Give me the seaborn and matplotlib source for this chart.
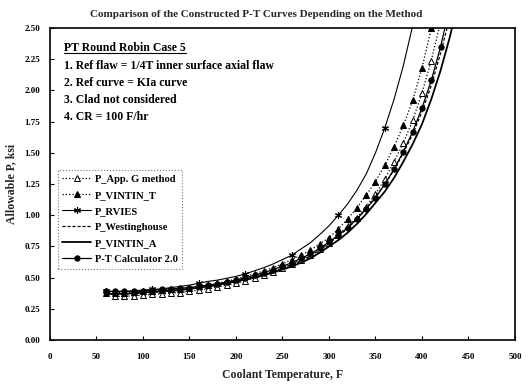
import matplotlib
matplotlib.use("Agg")
import matplotlib.pyplot as plt
from matplotlib.lines import Line2D
import seaborn as sns

# ---------------- data ----------------
temp = [60, 70, 80, 90, 100, 110, 120, 130, 140, 150, 160, 170, 180, 190, 200,
        210, 220, 230, 240, 250, 260, 270, 280, 290, 300, 310, 320, 330, 340,
        350, 360, 370, 380, 390, 400, 410, 420, 430, 440]

# App. G starts at 70 F
p_appg = [0.35, 0.35, 0.355, 0.36, 0.365, 0.37, 0.375, 0.38, 0.39, 0.40, 0.41,
          0.425, 0.44, 0.455, 0.475, 0.495, 0.52, 0.545, 0.575, 0.61, 0.645,
          0.685, 0.73, 0.78, 0.84, 0.91, 0.98, 1.07, 1.17, 1.29, 1.43, 1.58,
          1.76, 1.98, 2.24, 2.55]
p_vintin_t = [0.38, 0.38, 0.38, 0.385, 0.39, 0.395, 0.40, 0.405, 0.41, 0.42,
              0.43, 0.44, 0.455, 0.47, 0.49, 0.51, 0.53, 0.555, 0.58, 0.61,
              0.645, 0.68, 0.72, 0.77, 0.82, 0.89, 0.97, 1.06, 1.16, 1.27,
              1.40, 1.55, 1.72, 1.92, 2.18, 2.50, 2.85]
p_rvies = [0.39, 0.39, 0.39, 0.395, 0.40, 0.405, 0.41, 0.42, 0.43, 0.44,
           0.455, 0.47, 0.48, 0.495, 0.51, 0.53, 0.555, 0.58, 0.61, 0.645,
           0.68, 0.73, 0.78, 0.845, 0.915, 1.00, 1.09, 1.20, 1.33, 1.50,
           1.70, 1.93, 2.20, 2.52]
p_westinghouse = [0.37, 0.37, 0.37, 0.375, 0.38, 0.385, 0.39, 0.395, 0.40,
                  0.41, 0.42, 0.43, 0.445, 0.46, 0.475, 0.49, 0.51, 0.53,
                  0.55, 0.575, 0.605, 0.635, 0.675, 0.72, 0.775, 0.83, 0.895,
                  0.97, 1.055, 1.15, 1.245, 1.365, 1.50, 1.65, 1.83, 2.04,
                  2.30, 2.59]
p_vintin_a = [0.37, 0.37, 0.37, 0.375, 0.38, 0.385, 0.39, 0.395, 0.40, 0.41,
              0.42, 0.43, 0.44, 0.455, 0.47, 0.485, 0.50, 0.52, 0.54, 0.565,
              0.59, 0.62, 0.655, 0.70, 0.75, 0.80, 0.86, 0.93, 1.01, 1.10,
              1.19, 1.30, 1.43, 1.57, 1.73, 1.93, 2.16, 2.43, 2.75]
p_ptcalc = [0.39, 0.39, 0.39, 0.39, 0.395, 0.40, 0.405, 0.41, 0.415, 0.42,
            0.43, 0.44, 0.45, 0.465, 0.48, 0.50, 0.52, 0.54, 0.565, 0.59,
            0.62, 0.655, 0.69, 0.735, 0.785, 0.84, 0.90, 0.97, 1.05, 1.14,
            1.25, 1.37, 1.51, 1.67, 1.86, 2.08, 2.35, 2.68]

x_ticks = [0, 50, 100, 150, 200, 250, 300, 350, 400, 450, 500]
y_ticks = [0.00, 0.25, 0.50, 0.75, 1.00, 1.25, 1.50, 1.75, 2.00, 2.25, 2.50]

title = "Comparison of the Constructed P-T Curves Depending on the Method"
note_head = "PT Round Robin Case 5"
note_lines = ["1. Ref flaw = 1/4T inner surface axial flaw",
              "2. Ref curve = KIa curve",
              "3. Clad not considered",
              "4. CR = 100 F/hr"]

# ---------------- style ----------------
sns.set_theme(style="white")
plt.rcParams["font.family"] = ["Liberation Serif", "DejaVu Serif"]
plt.rcParams["font.weight"] = "bold"

fig = plt.figure(figsize=(5.29, 3.87), dpi=100)
ax = fig.add_axes([0.0945, 0.1214, 0.879, 0.806])

common = dict(ax=ax, color="black", estimator=None, sort=False)

sns.lineplot(x=temp[1:1 + len(p_appg)], y=p_appg, label="P_App. G method",
             linestyle=":", lw=0.9, marker="^", ms=4.4, mfc="white",
             mec="black", mew=0.7, **common)
sns.lineplot(x=temp[:len(p_vintin_t)], y=p_vintin_t, label="P_VINTIN_T",
             linestyle=":", lw=0.9, marker="^", ms=4.7, mfc="black",
             mec="black", **common)
sns.lineplot(x=temp[:len(p_rvies)], y=p_rvies, label="P_RVIES",
             linestyle="-", lw=0.8, marker=(6, 2, 0), ms=5, mec="black",
             mew=0.8, markevery=5, **common)
sns.lineplot(x=temp[:len(p_westinghouse)], y=p_westinghouse,
             label="P_Westinghouse", linestyle=(0, (2.5, 1.5)), lw=0.9,
             **common)
sns.lineplot(x=temp[:len(p_vintin_a)], y=p_vintin_a, label="P_VINTIN_A",
             linestyle="-", lw=1.3, **common)
sns.lineplot(x=temp[:len(p_ptcalc)], y=p_ptcalc, label="P-T Calculator 2.0",
             linestyle="-", lw=0.9, marker="o", ms=3.8, mfc="black",
             mec="black", **common)

ax.set_xlim(0, 500)
ax.set_ylim(0, 2.5)
ax.set_xticks(x_ticks)
ax.set_yticks(y_ticks)
ax.set_xticklabels([str(t) for t in x_ticks], fontsize=6.5, fontweight="bold")
ax.set_yticklabels([f"{v:.2f}" for v in y_ticks], fontsize=6.5,
                   fontweight="bold")
ax.tick_params(axis="x", direction="in", length=3, width=0.8, pad=9,
               colors="black", bottom=True)
ax.tick_params(axis="y", direction="in", length=3, width=0.8, pad=7,
               colors="black", left=True)
for s in ax.spines.values():
    s.set_color("black")
    s.set_linewidth(1.2)

ax.set_xlabel("Coolant Temperature, F", fontsize=8.5, fontweight="bold",
              labelpad=6)
ax.set_ylabel("Allowable P, ksi", fontsize=8.5, fontweight="bold",
              labelpad=5)

fig.suptitle(title, x=0.485, y=0.975, fontsize=8, fontweight="bold",
             va="top")

leg = ax.legend(loc="upper left", bbox_to_anchor=(0.005, 0.562),
                handlelength=2.7, handletextpad=0.35,
                labelspacing=0.62, borderpad=0.45, frameon=True,
                fancybox=False, prop={"weight": "bold", "size": 7.6})
fr = leg.get_frame()
fr.set_linestyle(":")
fr.set_edgecolor("#555555")
fr.set_linewidth(0.8)
for t in leg.get_texts():
    t.set_color("black")

head = ax.text(0.03, 0.935, note_head, transform=ax.transAxes, fontsize=8.5,
               fontweight="bold", va="center", ha="left", color="black")
for i, line in enumerate(note_lines):
    ax.text(0.03, 0.88 - i * 0.0555, line, transform=ax.transAxes,
            fontsize=8.5, fontweight="bold", va="center", ha="left",
            color="black")

# underline the heading
fig.canvas.draw()
bb = head.get_window_extent(renderer=fig.canvas.get_renderer())
inv = fig.transFigure.inverted()
(x0, y0), (x1, y1) = inv.transform([(bb.x0, bb.y0 + 1), (bb.x1, bb.y0 + 1)])
fig.add_artist(Line2D([x0, x1], [y0, y1], transform=fig.transFigure,
                      color="black", lw=0.8))

fig.savefig("out.png", dpi=100)
